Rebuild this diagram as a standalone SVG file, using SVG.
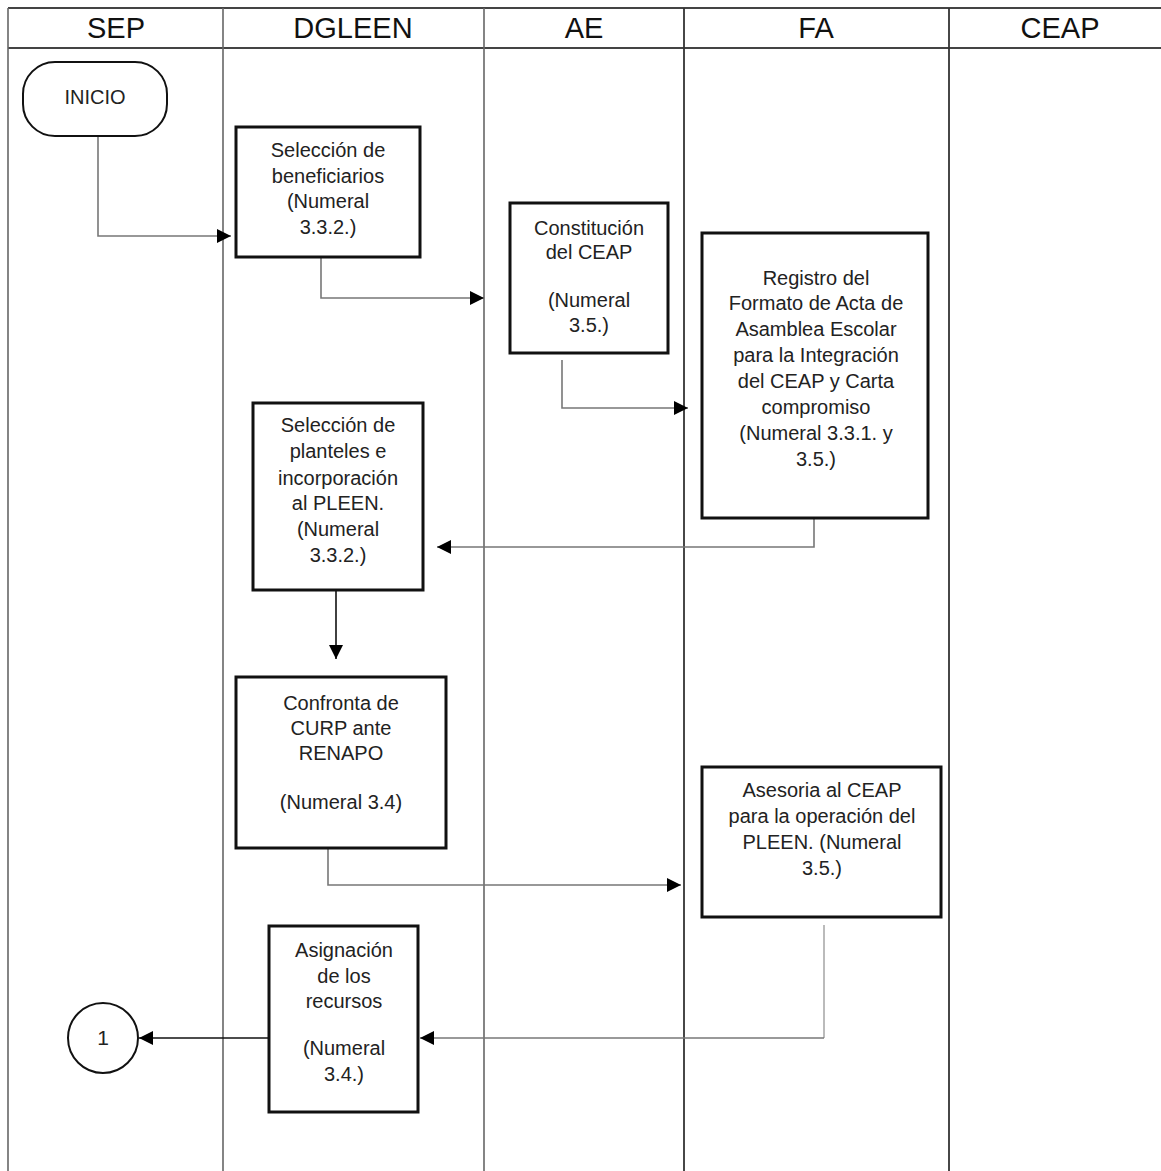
<svg xmlns="http://www.w3.org/2000/svg" width="1161" height="1171" viewBox="0 0 1161 1171">
<style>
.hdr{font-family:"Liberation Sans",Arial,sans-serif;font-size:29px;fill:#111;text-anchor:middle}
.t{font-family:"Liberation Sans",Arial,sans-serif;font-size:20px;fill:#222;text-anchor:middle}
.box{fill:#fff;stroke:#111;stroke-width:3}
.col{stroke:#666;stroke-width:1.6;fill:none}
.dk{stroke:#333;stroke-width:1.8}
.hl{stroke:#444;stroke-width:2.2;fill:none}
.c{fill:none;stroke-width:1.6}
.g{stroke:#777}
.lg{stroke:#aaa}
.k{stroke:#111}
</style>
<defs>
<marker id="ah" viewBox="0 0 14 14" refX="14" refY="7" markerWidth="14" markerHeight="14" markerUnits="userSpaceOnUse" orient="auto">
<path d="M0,0 L14,7 L0,14 Z" fill="#000"/>
</marker>
</defs>
<rect width="1161" height="1171" fill="#fff"/>
<g id="lanes">
<line class="hl" x1="8" y1="8" x2="1161" y2="8"/>
<line class="hl" x1="8" y1="48" x2="1161" y2="48"/>
<line class="col" x1="8" y1="8" x2="8" y2="1171"/>
<line class="col" x1="223" y1="8" x2="223" y2="1171"/>
<line class="col" x1="484" y1="8" x2="484" y2="1171"/>
<line class="col dk" x1="684" y1="8" x2="684" y2="1171"/>
<line class="col dk" x1="949" y1="8" x2="949" y2="1171"/>
<text class="hdr" x="116" y="38">SEP</text>
<text class="hdr" x="353" y="38">DGLEEN</text>
<text class="hdr" x="584" y="38">AE</text>
<text class="hdr" x="816" y="38">FA</text>
<text class="hdr" x="1060" y="38">CEAP</text>
</g>
<g id="connectors">
<path class="c g" d="M98,136 V236 H231" marker-end="url(#ah)"/>
<path class="c g" d="M321,257 V298 H484" marker-end="url(#ah)"/>
<path class="c g" d="M562,360 V408 H688" marker-end="url(#ah)"/>
<path class="c g" d="M814,518 V547 H437" marker-end="url(#ah)"/>
<path class="c k" d="M336,590 V659" marker-end="url(#ah)"/>
<path class="c g" d="M328,848 V885 H681" marker-end="url(#ah)"/>
<path class="c lg" d="M824,925 V1038"/>
<path class="c g" d="M824,1038 H420" marker-end="url(#ah)"/>
<path class="c k" d="M269,1038 H139" marker-end="url(#ah)"/>
</g>
<g id="inicio">
<rect x="23" y="62" width="144" height="74" rx="32" ry="32" fill="#fff" stroke="#111" stroke-width="2"/>
<text class="t" x="95" y="104">INICIO</text>
</g>
<g id="seleccion-beneficiarios">
<rect class="box" x="236" y="127" width="184" height="130"/>
<text class="t" x="328" y="157">Selección de</text>
<text class="t" x="328" y="183">beneficiarios</text>
<text class="t" x="328" y="208">(Numeral</text>
<text class="t" x="328" y="234">3.3.2.)</text>
</g>
<g id="constitucion">
<rect class="box" x="510" y="203" width="158" height="150"/>
<text class="t" x="589" y="235">Constitución</text>
<text class="t" x="589" y="259">del CEAP</text>
<text class="t" x="589" y="307">(Numeral</text>
<text class="t" x="589" y="332">3.5.)</text>
</g>
<g id="registro">
<rect class="box" x="702" y="233" width="226" height="285"/>
<text class="t" x="816" y="285">Registro del</text>
<text class="t" x="816" y="310">Formato de Acta de</text>
<text class="t" x="816" y="336">Asamblea Escolar</text>
<text class="t" x="816" y="362">para la Integración</text>
<text class="t" x="816" y="388">del CEAP y Carta</text>
<text class="t" x="816" y="414">compromiso</text>
<text class="t" x="816" y="440">(Numeral 3.3.1. y</text>
<text class="t" x="816" y="466">3.5.)</text>
</g>
<g id="seleccion-planteles">
<rect class="box" x="253" y="403" width="170" height="187"/>
<text class="t" x="338" y="432">Selección de</text>
<text class="t" x="338" y="458">planteles e</text>
<text class="t" x="338" y="485">incorporación</text>
<text class="t" x="338" y="510">al PLEEN.</text>
<text class="t" x="338" y="536">(Numeral</text>
<text class="t" x="338" y="562">3.3.2.)</text>
</g>
<g id="confronta">
<rect class="box" x="236" y="677" width="210" height="171"/>
<text class="t" x="341" y="710">Confronta de</text>
<text class="t" x="341" y="735">CURP ante</text>
<text class="t" x="341" y="760">RENAPO</text>
<text class="t" x="341" y="809">(Numeral 3.4)</text>
</g>
<g id="asesoria">
<rect class="box" x="702" y="767" width="239" height="150"/>
<text class="t" x="822" y="797">Asesoria al CEAP</text>
<text class="t" x="822" y="823">para la operación del</text>
<text class="t" x="822" y="849">PLEEN. (Numeral</text>
<text class="t" x="822" y="875">3.5.)</text>
</g>
<g id="asignacion">
<rect class="box" x="269" y="926" width="149" height="186"/>
<text class="t" x="344" y="957">Asignación</text>
<text class="t" x="344" y="983">de los</text>
<text class="t" x="344" y="1008">recursos</text>
<text class="t" x="344" y="1055">(Numeral</text>
<text class="t" x="344" y="1081">3.4.)</text>
</g>
<g id="conector-1">
<circle cx="103" cy="1038" r="35" fill="#fff" stroke="#111" stroke-width="2"/>
<text class="t" x="103" y="1045" style="font-size:21px">1</text>
</g>
</svg>
